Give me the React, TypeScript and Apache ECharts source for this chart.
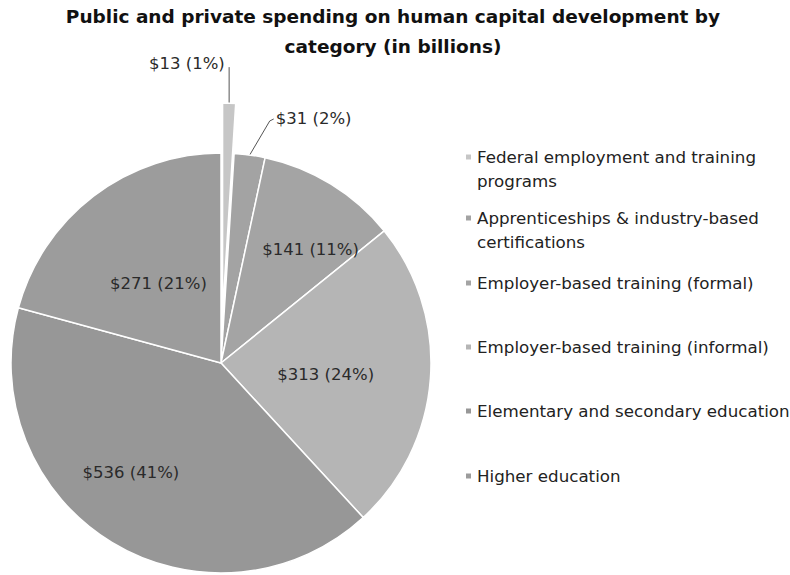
import React, { useEffect, useRef } from "react";
import * as echarts from "echarts";

const categories = [
  "Federal employment and training programs",
  "Apprenticeships & industry-based certifications",
  "Employer-based training (formal)",
  "Employer-based training (informal)",
  "Elementary and secondary education",
  "Higher education",
];
const legendText = [
  "\nFederal employment and training\nprograms",
  "\nApprenticeships & industry-based\ncertifications",
  "Employer-based training (formal)",
  "Employer-based training (informal)",
  "Elementary and secondary education",
  "Higher education",
];
const values = [13, 31, 141, 313, 536, 271];
const colors = ["#c6c6c6", "#a3a3a3", "#a4a4a4", "#b5b5b5", "#979797", "#9c9c9c"];
const legendTops = [121, 182, 271, 335, 399, 464];
const labelShift: Record<number, [number, number]> = { 2: [33, -21], 3: [-3, 4], 4: [-34, 17], 5: [3, 6] };

const FONT = "DejaVu Sans";

export default function App() {
  const ref = useRef<HTMLDivElement>(null);
  useEffect(() => {
    if (!ref.current) return;
    const chart = echarts.init(ref.current, undefined, { renderer: "svg" });
    const data = categories.map((name, i) => ({
      name,
      value: values[i],
      selected: i === 0,
      itemStyle: { color: colors[i] },
      label:
        i < 2
          ? { position: "outside", show: true }
          : { position: "inside", show: true },
      labelLine: { show: i < 2, length: 20, length2: 6, lineStyle: { color: "#555", width: 1 } },
    }));
    chart.setOption({
      animation: false,
      backgroundColor: "#ffffff",
      title: {
        text: "Public and private spending on human capital development by\ncategory (in billions)",
        left: 393,
        textAlign: "center",
        top: 1,
        padding: 0,
        textStyle: {
          fontFamily: FONT,
          fontWeight: "bold",
          fontSize: 18.5,
          lineHeight: 30,
          color: "#111",
        },
      },
      legend: categories.map((name, i) => ({
        data: [name],
        left: 464,
        top: legendTops[i],
        padding: 0,
        icon: "rect",
        itemWidth: 7,
        itemHeight: 7,
        itemStyle: { color: colors[i] },
        selectedMode: false,
        formatter: () => legendText[i],
        textStyle: {
          fontFamily: FONT,
          fontSize: 16.7,
          lineHeight: 24,
          color: "#222",
        },
      })),
      series: [
        {
          type: "pie",
          center: [221, 363],
          radius: 210,
          startAngle: 90,
          clockwise: true,
          selectedMode: "single",
          selectedOffset: 50,
          percentPrecision: 0,
          avoidLabelOverlap: false,
          emphasis: { disabled: true },
          select: { itemStyle: { borderColor: "#ffffff", borderWidth: 1.5 } },
          itemStyle: { borderColor: "#ffffff", borderWidth: 1.5 },
          label: {
            formatter: "${c} ({d}%)",
            fontFamily: FONT,
            fontSize: 16.5,
            color: "#2a2a2a",
          },
          labelLayout: (p: any) => {
            const s = labelShift[p.dataIndex];
            if (s) return { dx: s[0], dy: s[1] };
            const pts = p.labelLinePoints;
            if (pts && p.dataIndex === 0) {
              const [x0, y0] = pts[0];
              return {
                dx: -16,
                dy: -20,
                align: "right",
                verticalAlign: "middle",
                labelLinePoints: [[x0, y0], [x0, y0 - 36], [x0, y0 - 36]],
              };
            }
            if (pts && p.dataIndex === 1) {
              const [x0, y0] = pts[0];
              return {
                x: x0 + 26,
                y: y0 - 36,
                align: "left",
                verticalAlign: "middle",
                labelLinePoints: [[x0, y0], [x0 + 20, y0 - 34], [x0 + 24, y0 - 36]],
              };
            }
            return {};
          },
          data,
        },
      ],
    });
    return () => chart.dispose();
  }, []);
  return (
    <div
      ref={ref}
      style={{ position: "fixed", left: 0, top: 0, width: 790, height: 575 }}
    />
  );
}
